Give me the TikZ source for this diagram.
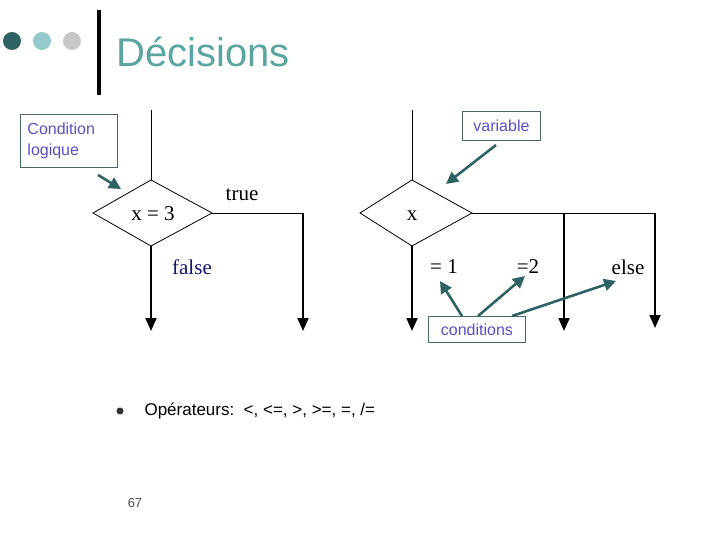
\documentclass[tikz,border=0pt]{standalone}
\usepackage{fontspec}
\setmainfont{Liberation Serif}
\setsansfont{Liberation Sans}
\usetikzlibrary{arrows.meta}
\definecolor{teal1}{HTML}{5BA5A0}
\definecolor{dk}{HTML}{2F6262}
\definecolor{lt}{HTML}{93C9C9}
\definecolor{gr}{HTML}{C8C8C8}
\definecolor{lbl}{HTML}{5A4FC0}
\definecolor{boxc}{HTML}{4A6A6A}
\begin{document}
\begin{tikzpicture}[x=1pt,y=-1pt,
  flow/.style={line width=0.8pt},
  outarrow/.style={line width=1.8pt,-{Triangle[width=11pt,length=13pt]}},
  note/.style={draw=boxc,line width=0.9pt,font=\sffamily\fontsize{16}{21}\selectfont,text=lbl,inner sep=4pt,align=left},
  pt/.style={line width=2.6pt,color=dk,-{Triangle[width=12pt,length=12pt]}},
  ser/.style={font=\fontsize{21}{24}\selectfont}]
\useasboundingbox (0,0) rectangle (720,540);
\fill[dk] (12,41) circle (9);
\fill[lt] (42,41) circle (9);
\fill[gr] (72,41) circle (9);
\fill[black] (96.5,10) rectangle (100.5,95);
\node[anchor=west,text=teal1,font=\sffamily\fontsize{40}{44}\selectfont] (title) at (113,52) {Décisions};
% diamond 1
\draw[flow] (93,213) -- (151,180) -- (212,213) -- (151,246) -- cycle;
\coordinate (d1t) at (151,180); \coordinate (d1r) at (212,213); \coordinate (d1b) at (151,246);
\coordinate (in1) at (151,110); \coordinate (c1) at (303,213);
\coordinate (o1) at (151,331); \coordinate (o2) at (303,331);
\draw[flow] (in1) -- (d1t);
\draw[flow] (d1r) -- (c1);
\draw[outarrow] (c1) -- (o2);
\draw[outarrow] (d1b) -- (o1);
\node[ser] (x3) at (153,214) {x = 3};
\node[ser] (tr) at (242,195) {true};
\node[ser,text={rgb,255:red,20;green,20;blue,110}] (fa) at (192,267) {false};
% diamond 2
\draw[flow] (360,213) -- (412,180) -- (472,213) -- (412,246) -- cycle;
\coordinate (d2t) at (412,180); \coordinate (d2r) at (472,213); \coordinate (d2b) at (412,246);
\coordinate (in2) at (412,110); \coordinate (c2) at (564,213); \coordinate (c3) at (655,213);
\coordinate (o3) at (412,331); \coordinate (o4) at (564,331); \coordinate (o5) at (655,328);
\draw[flow] (in2) -- (d2t);
\draw[flow] (d2r) -- (c3);
\draw[outarrow] (c2) -- (o4);
\draw[outarrow] (c3) -- (o5);
\draw[outarrow] (d2b) -- (o3);
\node[ser] (xv) at (412,216) {x};
\node[ser] (e1) at (444,267) {= 1};
\node[ser] (e2) at (528,267) {=2};
\node[ser] (el) at (628,267) {else};
% notes
\node[draw=boxc,line width=0.9pt,minimum width=97pt,minimum height=53pt,anchor=north west] (cl) at (20,114) {};
\node[note,draw=none,anchor=north west] (clt) at (23,118) {Condition\\logique};
\draw[pt] (98,175) -- (121,189);
\node[note,minimum width=78pt,minimum height=29pt,anchor=north west,align=center] (var) at (462,111) {variable};
\draw[pt] (496,145) -- (446,184);
\node[note,minimum width=97pt,minimum height=26pt,anchor=north west,align=center,inner sep=2pt] (cond) at (428,316) {conditions};
\draw[pt] (cond.north west) ++(34,0) -- (440,281);
\draw[pt] (cond.north west) ++(50,0) -- (525,276);
\draw[pt] (cond.north west) ++(84,0) -- (616,281);
% bullet
\fill[black!80] (120,411) circle (3.5);
\node[anchor=west,font=\sffamily\fontsize{17}{20}\selectfont] (ops) at (141,411) {Opérateurs:\ \ <, <=, >, >=, =, /=};
\node[font=\sffamily\fontsize{13}{15}\selectfont,text=black!70] (pg) at (135,503) {67};
\end{tikzpicture}
\end{document}
